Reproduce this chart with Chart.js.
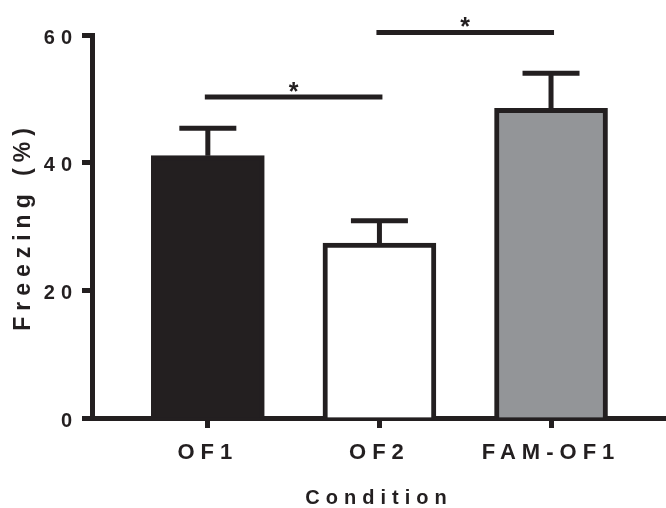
<!DOCTYPE html>
<html>
<head>
<meta charset="utf-8">
<title>Freezing by condition</title>
<script src="https://cdn.jsdelivr.net/npm/chart.js@4.4.1/dist/chart.umd.min.js"></script>
<style>
  html, body { margin: 0; padding: 0; background: #fff; }
  #wrap { width: 666px; height: 508px; }
</style>
</head>
<body>
<div id="wrap"><canvas id="freezing-chart"></canvas></div>
<script>
// values
const categories = ["OF1", "OF2", "FAM-OF1"];
const freezing = [41.1, 27.4, 48.5];
const sem = [4.3, 3.5, 5.5];
const yTicks = [0, 20, 40, 60];

// significance brackets (index into categories)
const sigFrom = [0, 1];
const sigTo = [1, 2];
const sigLevel = [50.3, 60.4];
const sigMark = ["*", "*"];

const ink = "#231f20";
const fills = [ink, "#ffffff", "#939598"];
const family = '"Liberation Sans", Arial, Helvetica, sans-serif';

const overlayPlugin = {
    id: "overlay",
    beforeDraw(chart) {
        // y axis layer is drawn before the datasets
        chart.ctx.letterSpacing = "6px";
    },
    afterDatasetsDraw(chart) {
        const ctx = chart.ctx;
        const xs = chart.scales.x;
        const ys = chart.scales.y;
        ctx.save();
        ctx.letterSpacing = "0px";
        ctx.strokeStyle = ink;
        ctx.fillStyle = ink;
        ctx.lineWidth = 5;
        ctx.lineCap = "butt";

        // error bars (upper only)
        freezing.forEach(function (v, i) {
            const cx = xs.getPixelForValue(i + 1);
            const top = ys.getPixelForValue(v);
            const cap = ys.getPixelForValue(v + sem[i]);
            ctx.beginPath();
            ctx.moveTo(cx, top);
            ctx.lineTo(cx, cap);
            ctx.moveTo(cx - 28.5, cap);
            ctx.lineTo(cx + 28.5, cap);
            ctx.stroke();
        });

        // significance lines
        ctx.font = "bold 25px " + family;
        ctx.textAlign = "center";
        ctx.textBaseline = "alphabetic";
        sigLevel.forEach(function (lv, k) {
            const x1 = xs.getPixelForValue(sigFrom[k] + 1) - 3;
            const x2 = xs.getPixelForValue(sigTo[k] + 1) + 3;
            const py = ys.getPixelForValue(lv);
            ctx.beginPath();
            ctx.moveTo(x1, py);
            ctx.lineTo(x2, py);
            ctx.stroke();
            ctx.fillText(sigMark[k], (x1 + x2) / 2, py + 3);
        });
        ctx.restore();

        // x axis layer comes after this
        ctx.letterSpacing = "5.5px";
    }
};

const axisBorder = { display: true, width: 5, color: ink };

new Chart(document.getElementById("freezing-chart"), {
    type: "bar",
    data: {
        datasets: [{
            data: categories.map(function (c, i) { return { x: i + 1, y: freezing[i] }; }),
            backgroundColor: fills,
            borderColor: ink,
            borderWidth: 5,
            borderSkipped: "bottom",
            barThickness: 113
        }]
    },
    options: {
        responsive: true,
        maintainAspectRatio: false,
        animation: false,
        layout: { padding: { top: 35, right: 0, bottom: 0, left: 0 } },
        plugins: {
            legend: { display: false },
            tooltip: { enabled: false }
        },
        scales: {
            x: {
                type: "linear",
                min: 0.325,
                max: 3.67,
                offset: false,
                z: 1,
                afterBuildTicks: function (s) {
                    s.ticks = categories.map(function (c, i) { return { value: i + 1 }; });
                },
                afterFit: function (s) { s.height = 90; },
                ticks: {
                    callback: function (v) { return categories[v - 1]; },
                    color: ink,
                    font: { family: family, size: 22, weight: "bold" },
                    padding: 12,
                    maxRotation: 0,
                    autoSkip: false
                },
                grid: {
                    offset: false,
                    drawOnChartArea: false,
                    drawTicks: true,
                    tickLength: 10,
                    tickWidth: 5,
                    tickColor: ink
                },
                border: axisBorder,
                title: {
                    display: true,
                    text: "Condition",
                    color: ink,
                    font: { family: family, size: 20, weight: "bold", lineHeight: 1 },
                    padding: { top: 0, bottom: 0 }
                }
            },
            y: {
                min: 0,
                max: 60,
                afterBuildTicks: function (s) {
                    s.ticks = yTicks.map(function (v) { return { value: v }; });
                },
                afterFit: function (s) { s.width = 92; },
                ticks: {
                    color: ink,
                    font: { family: family, size: 20, weight: "bold" },
                    padding: 4,
                    labelOffset: 3
                },
                grid: {
                    drawOnChartArea: false,
                    drawTicks: true,
                    tickLength: 10,
                    tickWidth: 5,
                    tickColor: ink
                },
                border: axisBorder,
                title: {
                    display: true,
                    text: "Freezing (%)",
                    color: ink,
                    font: { family: family, size: 23, weight: "bold" },
                    padding: { top: 10, bottom: 0 }
                }
            }
        }
    },
    plugins: [overlayPlugin]
});
</script>
</body>
</html>
